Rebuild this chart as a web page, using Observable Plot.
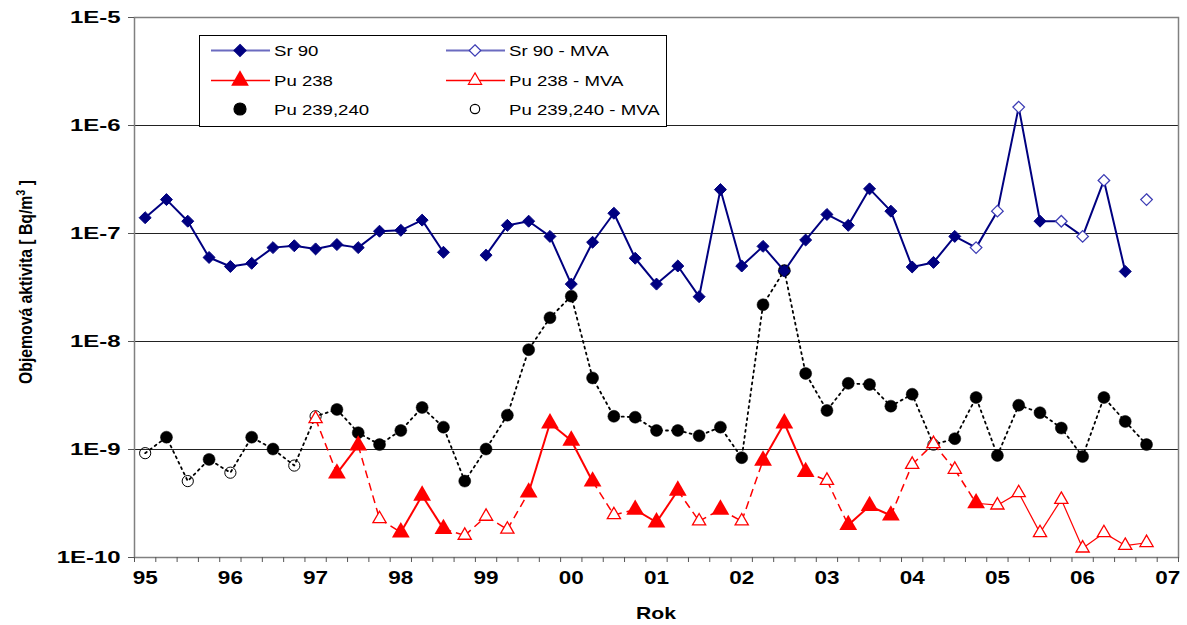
<!DOCTYPE html>
<html>
<head>
<meta charset="utf-8">
<script src="https://cdn.jsdelivr.net/npm/d3@7"></script>
<script src="https://cdn.jsdelivr.net/npm/@observablehq/plot@0.6"></script>
<style>
  html, body { margin: 0; padding: 0; background: #fff; }
  #chart { width: 1187px; height: 625px; }
</style>
</head>
<body>
<div id="chart"></div>
<script>
// ---------- data (quarterly, first quarter = 1995 Q1) ----------
const startYear = 1995;
const yearTicks = [1995, 1996, 1997, 1998, 1999, 2000, 2001, 2002, 2003, 2004, 2005, 2006, 2007];
const yTicks = [1e-10, 1e-9, 1e-8, 1e-7, 1e-6, 1e-5];

const sr90 = [1.40e-7, 2.06e-7, 1.30e-7, 6.0e-8, 4.95e-8, 5.3e-8, 7.4e-8, 7.7e-8, 7.2e-8, 7.9e-8,
  7.4e-8, 1.05e-7, 1.07e-7, 1.33e-7, 6.7e-8, null, 6.3e-8, 1.19e-7, 1.30e-7, 9.4e-8,
  3.4e-8, 8.3e-8, 1.54e-7, 5.9e-8, 3.4e-8, 5.0e-8, 2.6e-8, 2.55e-7, 5.0e-8, 7.6e-8,
  4.5e-8, 8.7e-8, 1.50e-7, 1.19e-7, 2.59e-7, 1.61e-7, 4.9e-8, 5.4e-8, 9.4e-8, null,
  null, null, 1.30e-7, null, null, null, 4.45e-8, null];
const sr90MVA = [null, null, null, null, null, null, null, null, null, null,
  null, null, null, null, null, null, null, null, null, null,
  null, null, null, null, null, null, null, null, null, null,
  null, null, null, null, null, null, null, null, null, 7.4e-8,
  1.61e-7, 1.48e-6, null, 1.30e-7, 9.4e-8, 3.1e-7, null, 2.06e-7];

const pu238 = [null, null, null, null, null, null, null, null, null, 6.0e-10,
  1.09e-9, null, 1.71e-10, 3.75e-10, 1.84e-10, null, null, null, 4.0e-10, 1.75e-9,
  1.21e-9, 5.06e-10, null, 2.77e-10, 2.12e-10, 4.17e-10, null, 2.78e-10, null, 7.9e-10,
  1.75e-9, 6.2e-10, null, 2.0e-10, 3.0e-10, 2.45e-10, null, null, null, 3.18e-10,
  null, null, null, null, null, null, null, null];
const pu238MVA = [null, null, null, null, null, null, null, null, 1.92e-9, null,
  null, 2.28e-10, null, null, null, 1.60e-10, 2.40e-10, 1.82e-10, null, null,
  null, null, 2.48e-10, null, null, null, 2.17e-10, null, 2.17e-10, null,
  null, null, 5.16e-10, null, null, null, 7.26e-10, 1.13e-9, 6.53e-10, null,
  3.05e-10, 3.97e-10, 1.69e-10, 3.44e-10, 1.22e-10, 1.69e-10, 1.29e-10, 1.37e-10];

const pu239 = [null, 1.30e-9, null, 8.1e-10, null, 1.30e-9, 1.01e-9, null, null, 2.35e-9,
  1.43e-9, 1.11e-9, 1.50e-9, 2.45e-9, 1.61e-9, 5.1e-10, 1.01e-9, 2.08e-9, 8.4e-9, 1.66e-8,
  2.63e-8, 4.6e-9, 2.03e-9, 1.99e-9, 1.50e-9, 1.50e-9, 1.34e-9, 1.61e-9, 8.4e-10, 2.19e-8,
  4.54e-8, 5.06e-9, 2.30e-9, 4.1e-9, 4.0e-9, 2.52e-9, 3.25e-9, null, 1.26e-9, 3.03e-9,
  8.8e-10, 2.57e-9, 2.19e-9, 1.58e-9, 8.6e-10, 3.03e-9, 1.82e-9, 1.11e-9];
const pu239MVA = [9.25e-10, null, 5.1e-10, null, 6.1e-10, null, null, 7.1e-10, 2.03e-9, null,
  null, null, null, null, null, null, null, null, null, null,
  null, null, null, null, null, null, null, null, null, null,
  null, null, null, null, null, null, null, 1.11e-9, null, null,
  null, null, null, null, null, null, null, null];

const seriesNames = ["Sr 90", "Sr 90 - MVA", "Pu 238", "Pu 238 - MVA", "Pu 239,240", "Pu 239,240 - MVA"];
const axisTitleX = "Rok";
const axisTitleY = ["Objemová aktivita [ Bq/m", "3", " ]"];

// ---------- derived tables ----------
const FONT = "'Liberation Sans', Arial, Helvetica, sans-serif";
const quarterX = k => startYear + k / 4;
const rows = sr90.map((_, k) => ({
  k, x: quarterX(k),
  sr: sr90[k], srM: sr90MVA[k], srAll: sr90[k] ?? sr90MVA[k],
  pu8: pu238[k], pu8M: pu238MVA[k], pu8All: pu238[k] ?? pu238MVA[k],
  pu9: pu239[k], pu9M: pu239MVA[k], pu9All: pu239[k] ?? pu239MVA[k]
}));
// Sr 90 line runs up to the last measured (non-MVA) value
const lastSr = sr90.reduce((a, v, i) => v != null ? i : a, -1);
const srLine = rows.filter(r => r.k <= lastSr);

// Pu 238 segments: solid between measured values, dashed where MVA involved (until end-2004), thin later
const dashEnd = 2004.75;
const pu8Segs = [];
for (let k = 0; k < rows.length - 1; k++) {
  const a = rows[k], b = rows[k + 1];
  if (a.pu8All == null || b.pu8All == null) continue;
  let style = "solid";
  if (a.pu8 == null || b.pu8 == null) style = a.x < dashEnd ? "dash" : "thin";
  pu8Segs.push({x1: a.x, y1: a.pu8All, x2: b.x, y2: b.pu8All, style});
}
const minorTicks = d3.range(0, 50).map(j => startYear - 0.125 + j * 0.25);

const NAVY = "#000080", MVA_BLUE = "#3c3cb4", RED = "#ff0000";

const plot = Plot.plot({
  width: 1187, height: 625,
  marginLeft: 134, marginRight: 9, marginTop: 17, marginBottom: 68,
  style: {fontFamily: FONT, background: "white"},
  x: {type: "linear", domain: [startYear - 0.125, 2007.125]},
  y: {type: "log", domain: [1e-10, 1e-5]},
  marks: [
    Plot.ruleY(yTicks.slice(1, -1), {stroke: "#222", strokeWidth: 1}),
    Plot.frame({stroke: "#808080", strokeWidth: 1.5}),
    // Pu 239,240
    Plot.line(rows, {x: "x", y: "pu9All", stroke: "black", strokeWidth: 1.8, strokeDasharray: "2,4"}),
    Plot.dot(rows.filter(r => r.pu9 != null), {x: "x", y: "pu9", r: 6, fill: "black", stroke: "black", strokeWidth: 0.5}),
    Plot.dot(rows.filter(r => r.pu9M != null), {x: "x", y: "pu9M", r: 5.6, fill: "none", stroke: "black", strokeWidth: 1}),
    // Pu 238
    Plot.link(pu8Segs.filter(s => s.style === "solid"), {x1: "x1", y1: "y1", x2: "x2", y2: "y2", stroke: RED, strokeWidth: 2}),
    Plot.link(pu8Segs.filter(s => s.style === "dash"), {x1: "x1", y1: "y1", x2: "x2", y2: "y2", stroke: RED, strokeWidth: 1.5, strokeDasharray: "8,5"}),
    Plot.link(pu8Segs.filter(s => s.style === "thin"), {x1: "x1", y1: "y1", x2: "x2", y2: "y2", stroke: RED, strokeWidth: 1.2}),
    Plot.dot(rows.filter(r => r.pu8M != null), {x: "x", y: "pu8M", symbol: "triangle2", r: 6.3, fill: "white", stroke: RED, strokeWidth: 1.3}),
    Plot.dot(rows.filter(r => r.pu8 != null), {x: "x", y: "pu8", symbol: "triangle", r: 6.6, fill: RED}),
    // Sr 90
    Plot.line(srLine, {x: "x", y: "srAll", stroke: NAVY, strokeWidth: 2}),
    Plot.dot(rows.filter(r => r.srM != null), {x: "x", y: "srM", symbol: "diamond2", r: 5.2, fill: "white", stroke: MVA_BLUE, strokeWidth: 1.3}),
    Plot.dot(rows.filter(r => r.sr != null), {x: "x", y: "sr", symbol: "diamond2", r: 5.4, fill: NAVY, stroke: NAVY, strokeWidth: 1}),
    // axes
    Plot.axisY({ticks: yTicks, tickSize: 6, tickPadding: 8, label: null, stroke: "#555",
      tickFormat: d => "1E" + Math.round(Math.log10(d)), fontSize: 16.5, fontWeight: "bold", fill: "black"}),
    Plot.axisX({ticks: minorTicks, tickSize: 5, tickFormat: () => "", label: null, stroke: "#555"}),
    Plot.axisX({ticks: yearTicks, tickSize: 0, tickPadding: 14, label: null,
      tickFormat: d => String(d % 100).padStart(2, "0"), fontSize: 18, fontWeight: "bold", fill: "black"})
  ]
});

document.getElementById("chart").appendChild(plot);
const svg = d3.select(plot);

// stretch tick labels horizontally to match the reference rendering
svg.selectAll('g[aria-label="y-axis tick label"] text').each(function() {
  const L = this.getComputedTextLength();
  d3.select(this).attr("textLength", L * 1.45).attr("lengthAdjust", "spacingAndGlyphs");
});
svg.selectAll('g[aria-label="x-axis tick label"] text').each(function() {
  const L = this.getComputedTextLength();
  if (L > 0) d3.select(this).attr("textLength", L * 1.25).attr("lengthAdjust", "spacingAndGlyphs");
});

// axis titles
const yt = svg.append("text")
  .attr("transform", "translate(32,282) rotate(-90)")
  .attr("text-anchor", "middle")
  .attr("font-family", FONT).attr("font-size", 17.5).attr("font-weight", "bold")
  .attr("textLength", 204).attr("lengthAdjust", "spacingAndGlyphs");
yt.append("tspan").text(axisTitleY[0]);
yt.append("tspan").attr("dy", -7).attr("font-size", 12).text(axisTitleY[1]);
yt.append("tspan").attr("dy", 7).text(axisTitleY[2]);
svg.append("text")
  .attr("x", 656).attr("y", 619)
  .attr("text-anchor", "middle")
  .attr("font-family", FONT).attr("font-size", 17).attr("font-weight", "bold")
  .attr("textLength", 40).attr("lengthAdjust", "spacingAndGlyphs")
  .text(axisTitleX);

// legend
const lg = svg.append("g").attr("font-family", FONT);
lg.append("rect").attr("x", 199.5).attr("y", 35.5).attr("width", 467).attr("height", 91)
  .attr("fill", "white").attr("stroke", "black").attr("stroke-width", 1);
const legendItems = [
  {name: seriesNames[0], col: 0, row: 0, line: {stroke: "#6b6bc0", w: 2}, sym: d3.symbolDiamond2, r: 5.4, fill: NAVY, stroke: NAVY},
  {name: seriesNames[1], col: 1, row: 0, line: {stroke: "#6b6bc0", w: 2}, sym: d3.symbolDiamond2, r: 5.2, fill: "white", stroke: MVA_BLUE},
  {name: seriesNames[2], col: 0, row: 1, line: {stroke: RED, w: 1.3}, sym: d3.symbolTriangle, r: 6.6, fill: RED, stroke: "none"},
  {name: seriesNames[3], col: 1, row: 1, line: {stroke: RED, w: 1.3}, sym: d3.symbolTriangle2, r: 6.3, fill: "white", stroke: RED},
  {name: seriesNames[4], col: 0, row: 2, line: null, sym: d3.symbolCircle, r: 6, fill: "black", stroke: "black"},
  {name: seriesNames[5], col: 1, row: 2, line: null, sym: d3.symbolCircle, r: 4.7, fill: "white", stroke: "black"}
];
const colX = [211, 446], rowY = [50.5, 80.5, 109];
legendItems.forEach(it => {
  const x0 = colX[it.col], y0 = rowY[it.row];
  if (it.line) lg.append("line").attr("x1", x0).attr("x2", x0 + 59).attr("y1", y0).attr("y2", y0)
    .attr("stroke", it.line.stroke).attr("stroke-width", it.line.w);
  lg.append("path").attr("d", d3.symbol(it.sym, Math.PI * it.r * it.r)())
    .attr("transform", `translate(${x0 + 29},${y0})`)
    .attr("fill", it.fill).attr("stroke", it.stroke).attr("stroke-width", 1.2);
  const t = lg.append("text").attr("x", x0 + 63).attr("y", y0).attr("dy", "0.36em")
    .attr("text-anchor", "start")
    .attr("font-size", 15.5).attr("fill", "black").text(it.name);
  const L = t.node().getComputedTextLength();
  t.attr("textLength", L * 1.2).attr("lengthAdjust", "spacingAndGlyphs");
});
</script>
</body>
</html>
